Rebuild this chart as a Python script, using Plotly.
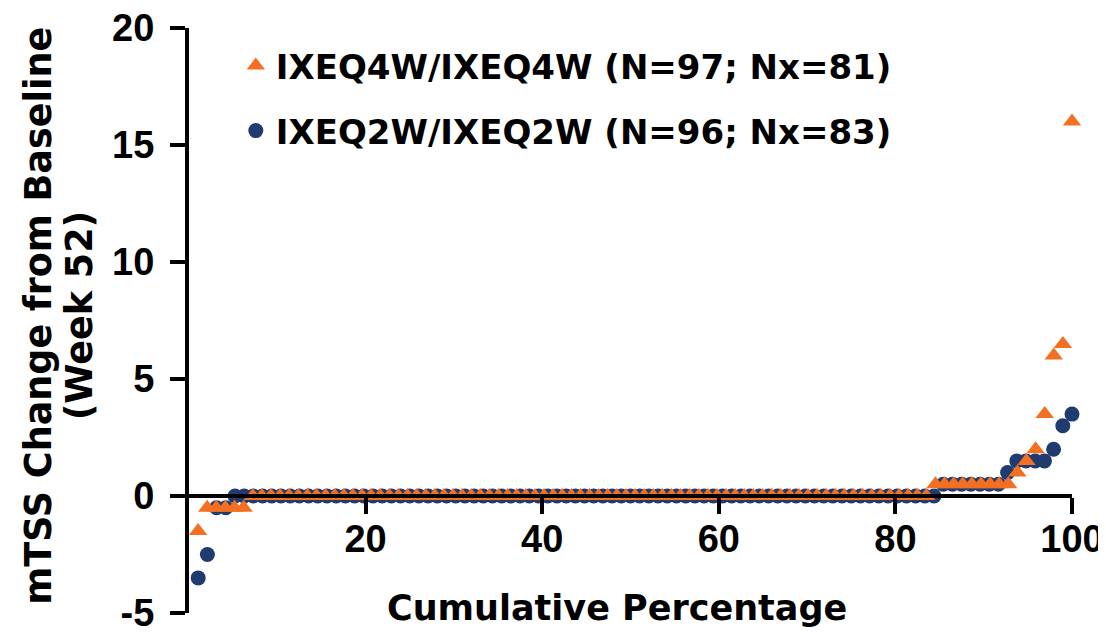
import numpy as np
import plotly.graph_objects as go

# ---- data ----
# IXEQ4W/IXEQ4W: distinct mTSS change values and how many patients had each (sorted)
q4w_values = [-1.5, -0.5, 0.0, 0.5, 1.0, 1.5, 2.0, 3.5, 6.0, 6.5, 16.0]
q4w_counts = [1, 5, 75, 9, 1, 1, 1, 1, 1, 1, 1]
# IXEQ2W/IXEQ2W
q2w_values = [-3.5, -2.5, -0.5, 0.0, 0.5, 1.0, 1.5, 2.0, 3.0, 3.5]
q2w_counts = [1, 1, 2, 77, 7, 1, 4, 1, 1, 1]

q4w_label = "IXEQ4W/IXEQ4W (N=97; Nx=81)"
q2w_label = "IXEQ2W/IXEQ2W (N=96; Nx=83)"

y_ticks = [-5, 0, 5, 10, 15, 20]
x_ticks = [20, 40, 60, 80, 100]

orange = "#F36F21"
navy = "#1F3B6F"

def cumulative(values, counts):
    y = np.repeat(values, counts)
    n = len(y)
    x = np.arange(1, n + 1) / n * 100.0
    return x, y

x4, y4 = cumulative(q4w_values, q4w_counts)
x2, y2 = cumulative(q2w_values, q2w_counts)

fig = go.Figure()
fig.add_trace(go.Scatter(
    x=x2, y=y2, mode="markers", name=q2w_label, legendrank=2,
    legendgroup="b", xaxis="x", yaxis="y",
    marker=dict(symbol="circle", size=15, color=navy, line=dict(width=0)),
    cliponaxis=False,
))
# orange series on the overlay x axis (same scale) so it is drawn on top
fig.add_trace(go.Scatter(
    x=x4, y=y4, mode="markers", name=q4w_label, legendrank=1,
    legendgroup="a", xaxis="x2", yaxis="y",
    marker=dict(symbol="triangle-up", size=16, color=orange, line=dict(width=0)),
    cliponaxis=False,
))

tickfont = dict(family="Liberation Sans", size=38, color="black", weight="bold")
titlefont = dict(family="DejaVu Sans", size=35, color="black", weight="bold")
ytitlefont = dict(family="DejaVu Sans", size=36.5, color="black", weight="bold")

# the page adds an 8px body margin, so the figure is 8px smaller than the window
fig.update_layout(
    width=1098, height=628,
    margin=dict(l=181, r=34, t=20, b=23),
    plot_bgcolor="white", paper_bgcolor="white",
    showlegend=True,
    legend=dict(
        x=0.053, y=0.985, xanchor="left", yanchor="top",
        font=dict(family="DejaVu Sans", size=34, color="black", weight="bold"),
        bgcolor="rgba(0,0,0,0)", tracegroupgap=18, itemwidth=30,
    ),
    # x axis drawn through y = 0 (line and ticks only)
    xaxis=dict(
        range=[0, 100], anchor="free", position=0.2,
        showline=True, linewidth=4, linecolor="black",
        ticks="outside", ticklen=16, tickwidth=4, tickcolor="black",
        tickvals=x_ticks, showticklabels=False,
        showgrid=False, zeroline=False, automargin=False,
    ),
    # overlay axis with the same scale, carrying only the x tick labels
    xaxis2=dict(
        matches="x", overlaying="x", anchor="free", position=0.2,
        showline=False, ticks="outside", ticklen=9, tickwidth=1,
        tickcolor="rgba(0,0,0,0)",
        tickvals=x_ticks, ticktext=[str(v) for v in x_ticks],
        tickfont=tickfont, ticklabeloverflow="allow",
        showgrid=False, zeroline=False, automargin=False,
    ),
    yaxis=dict(
        range=[-5, 20],
        showline=True, linewidth=4, linecolor="black",
        ticks="outside", ticklen=15, tickwidth=4, tickcolor="black",
        tickvals=y_ticks, ticktext=[str(v) for v in y_ticks],
        tickfont=tickfont, ticklabelstandoff=8, ticklabeloverflow="allow",
        showgrid=False, zeroline=False, automargin=False,
    ),
    annotations=[
        dict(text="Cumulative Percentage", xref="paper", yref="paper",
             x=0.485, y=0.0085, xanchor="center", yanchor="middle",
             showarrow=False, font=titlefont),
        dict(text="mTSS Change from Baseline", xref="paper", yref="paper",
             x=-0.170, y=0.508, xanchor="center", yanchor="middle",
             textangle=-90, showarrow=False, font=ytitlefont),
        dict(text="(Week 52)", xref="paper", yref="paper",
             x=-0.124, y=0.508, xanchor="center", yanchor="middle",
             textangle=-90, showarrow=False, font=ytitlefont),
    ],
)

fig.write_html("out.html")
